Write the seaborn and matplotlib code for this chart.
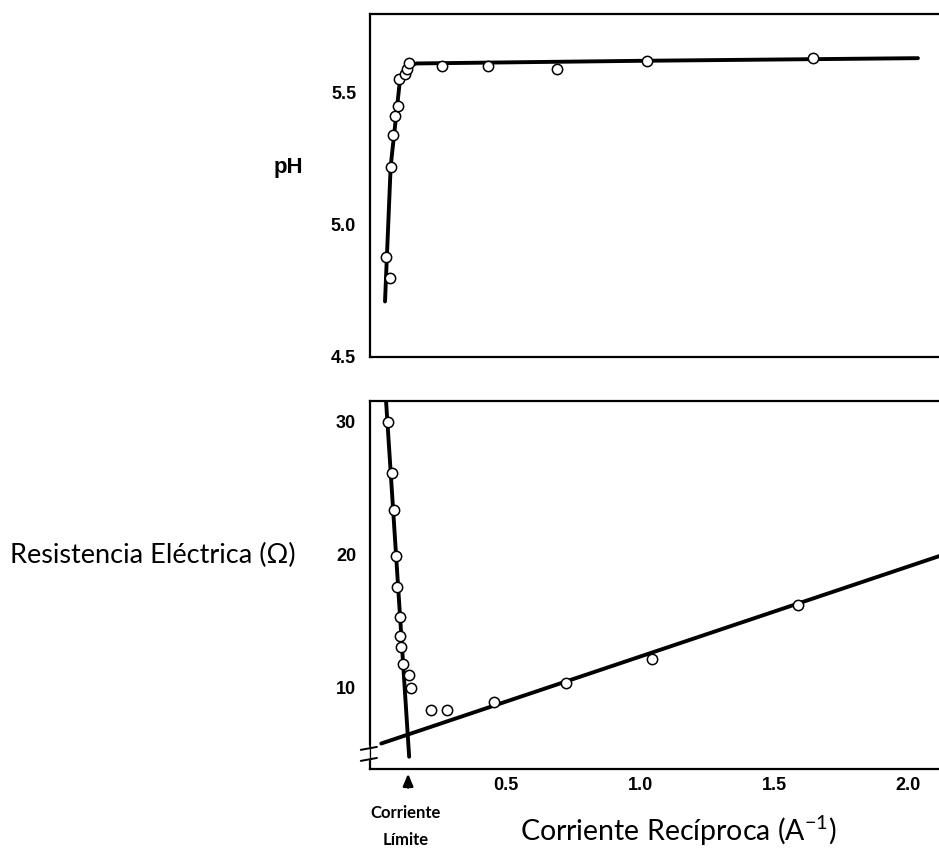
import matplotlib
matplotlib.use("Agg")
import matplotlib.pyplot as plt
import seaborn as sns
import pandas as pd

# ---- data ----
ph_x = [0.053, 0.069, 0.070, 0.078, 0.085, 0.096, 0.102, 0.123, 0.130, 0.139,
        0.260, 0.434, 0.691, 1.027, 1.646]
ph_y = [4.88, 4.80, 5.22, 5.34, 5.41, 5.45, 5.55, 5.57, 5.59, 5.61,
        5.60, 5.60, 5.59, 5.62, 5.63]
ph_fit_x = [0.049, 0.070, 0.086, 0.105, 0.130, 0.167, 1.0, 2.036]
ph_fit_y = [4.71, 5.22, 5.37, 5.55, 5.60, 5.61, 5.62, 5.63]

res_x = [0.061, 0.074, 0.082, 0.090, 0.095, 0.105, 0.105, 0.107, 0.115, 0.139,
         0.146, 0.219, 0.281, 0.457, 0.723, 1.046, 1.589]
res_y = [29.95, 26.1, 23.3, 19.9, 17.6, 15.3, 13.9, 13.1, 11.8, 11.0,
         10.0, 8.35, 8.35, 8.95, 10.35, 12.2, 16.2]
steep_x = [0.048, 0.139]
steep_y = [33.0, 4.85]
shallow_x = [0.035, 2.2]
shallow_y = [5.84, 20.45]

ph_ticks = [4.5, 5.0, 5.5]
res_ticks = [10, 20, 30]
x_ticks = [0.5, 1.0, 1.5, 2.0]
x_ticklabels = ["0.5", "1.0", "1.5", "2.0"]
limit_x = 0.135

sns.set_style("white")
plt.rcParams["font.family"] = ["Liberation Sans", "DejaVu Sans"]
plt.rcParams["text.color"] = "black"
plt.rcParams["xtick.color"] = "black"
plt.rcParams["ytick.color"] = "black"
plt.rcParams["xtick.labelcolor"] = "black"
plt.rcParams["ytick.labelcolor"] = "black"

W, H = 939, 852
fig = plt.figure(figsize=(W / 100, H / 100), dpi=100)

def px_rect(l, t, r, b):
    return [l / W, 1 - b / H, (r - l) / W, (b - t) / H]

ax1 = fig.add_axes(px_rect(370, 14, 945, 357))
ax2 = fig.add_axes(px_rect(370, 401, 945, 769))

xlim = (-0.007, 2.137)

df_ph = pd.DataFrame({"x": ph_x, "y": ph_y})
df_phfit = pd.DataFrame({"x": ph_fit_x, "y": ph_fit_y})
sns.lineplot(data=df_phfit, x="x", y="y", ax=ax1, color="black", lw=2.8,
             sort=False, estimator=None)
sns.scatterplot(data=df_ph, x="x", y="y", ax=ax1, s=55, facecolor="white",
                edgecolor="black", linewidth=1.1, zorder=5)

df_res = pd.DataFrame({"x": res_x, "y": res_y})
df_st = pd.DataFrame({"x": steep_x, "y": steep_y})
df_sh = pd.DataFrame({"x": shallow_x, "y": shallow_y})
sns.lineplot(data=df_st, x="x", y="y", ax=ax2, color="black", lw=2.8,
             sort=False, estimator=None)
sns.lineplot(data=df_sh, x="x", y="y", ax=ax2, color="black", lw=2.8,
             sort=False, estimator=None)
sns.scatterplot(data=df_res, x="x", y="y", ax=ax2, s=55, facecolor="white",
                edgecolor="black", linewidth=1.1, zorder=5)

ax1.set_xlim(*xlim)
ax1.set_ylim(4.5, 5.797)
ax2.set_xlim(*xlim)
ax2.set_ylim(3.93, 31.5)

tickfont = dict(fontsize=13, fontweight="bold", color="black")
for ax in (ax1, ax2):
    ax.set_xlabel("")
    ax.set_ylabel("")
    ax.spines["right"].set_visible(False)
    for s in ("left", "top", "bottom"):
        ax.spines[s].set_linewidth(1.6)
        ax.spines[s].set_color("black")
    ax.tick_params(direction="in", length=8, width=1.6, color="black")
    ax.tick_params(axis="y", pad=10)
    ax.tick_params(axis="x", pad=6)
    ax.set_xticks(x_ticks)

ax1.set_yticks(ph_ticks)
ax1.set_yticklabels(["4.5", "5.0", "5.5"], **tickfont)
ax1.set_xticklabels([])
ax2.set_yticks(res_ticks)
ax2.set_yticklabels([str(t) for t in res_ticks], **tickfont)
ax2.set_xticklabels(x_ticklabels, **tickfont)

# axis break marks on the lower left spine
ax2.plot([-0.005, -0.005], [0.026, 0.056], transform=ax2.transAxes,
         color="white", lw=4, clip_on=False, zorder=10)
for yy in (0.056, 0.026):
    ax2.plot([-0.016, 0.012], [yy - 0.004, yy + 0.004], transform=ax2.transAxes,
             color="black", lw=1.4, clip_on=False, zorder=11)

# arrow for limiting current
ax2.annotate("", xy=(limit_x, -0.005), xycoords=("data", "axes fraction"),
             xytext=(limit_x, -0.058), textcoords=("data", "axes fraction"),
             arrowprops=dict(arrowstyle="-|>,head_length=0.6,head_width=0.25",
                             color="black", lw=1.8, mutation_scale=12))

lab_font = ["Lato", "DejaVu Sans"]
fig.text(288 / W, 1 - 168 / H, "pH", ha="center", va="center",
         fontsize=16, fontweight="bold", family=["Liberation Sans"])
fig.text(153 / W, 1 - 555 / H, "Resistencia Eléctrica (Ω)", ha="center",
         va="center", fontsize=19.5, family=lab_font)
fig.text(678 / W, 1 - 831 / H, "Corriente Recíproca (A$^{\\mathregular{-1}}$)",
         ha="center", va="center", fontsize=20.5, family=lab_font)
fig.text(406 / W, 1 - 813 / H, "Corriente", ha="center", va="center",
         fontsize=12, fontweight="bold", family=lab_font)
fig.text(406 / W, 1 - 840 / H, "Límite", ha="center", va="center",
         fontsize=12, fontweight="bold", family=lab_font)

fig.savefig("out.png", dpi=100)
